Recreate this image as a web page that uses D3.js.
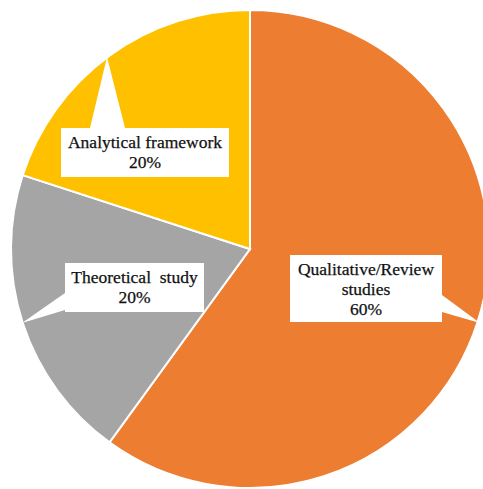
<!DOCTYPE html>
<html>
<head>
<meta charset="utf-8">
<script src="https://cdn.jsdelivr.net/npm/d3@7"></script>
<style>
  body { margin: 0; background: #fff; }
  svg { display: block; }
  .callout text { font-family: "Liberation Serif", "DejaVu Serif", serif; }
</style>
</head>
<body>
<div id="chart-area"></div>
<script>
// --> DATA
var categories = ["Qualitative/Review studies", "Theoretical study", "Analytical framework"];
var shares = [60, 20, 20];
var labelLines = [["Qualitative/Review", "studies"], ["Theoretical  study"], ["Analytical framework"]];

// --> SVG DRAWING AREA
var width = 483;
var height = 489;

var svg = d3.select("#chart-area").append("svg")
  .attr("width", width)
  .attr("height", height);

var cx = 250, cy = 249, radius = 239;

var color = d3.scaleOrdinal()
  .domain(categories)
  .range(["#ED7D31", "#A5A5A5", "#FFC000"]);

var pie = d3.pie()
  .sort(null)
  .value(function(d){ return d.value; });

var arc = d3.arc()
  .innerRadius(0)
  .outerRadius(radius);

var pieData = pie(categories.map(function(c, i){
  return { name: c, value: shares[i], lines: labelLines[i] };
}));

var g = svg.append("g")
  .attr("transform", "translate(" + cx + "," + cy + ")");

g.selectAll("path.slice")
  .data(pieData)
  .enter()
  .append("path")
  .attr("class", "slice")
  .attr("d", arc)
  .style("fill", function(d){ return color(d.data.name); })
  .style("stroke", "#fff")
  .style("stroke-width", 2);

// Callout boxes (box + pointer, relative to pie centre)
var callouts = {
  "Qualitative/Review studies": {
    box: [40, 6, 152, 67],
    pointer: [[192, 46], [230, 74], [192, 63]],
    firstBaseline: 26
  },
  "Theoretical study": {
    box: [-185, 14, 139, 49],
    pointer: [[-185, 44], [-228, 74], [-185, 61]],
    firstBaseline: 34
  },
  "Analytical framework": {
    box: [-189, -121, 168, 49],
    pointer: [[-160, -121], [-143, -192], [-125, -121]],
    firstBaseline: -101
  }
};

var labels = g.selectAll("g.callout")
  .data(pieData)
  .enter()
  .append("g")
  .attr("class", "callout");

labels.each(function(d){
  var c = callouts[d.data.name];
  var sel = d3.select(this);
  var line = d3.line();
  sel.append("path")
    .attr("d", line(c.pointer) + "Z")
    .style("fill", "#fff");
  sel.append("rect")
    .attr("x", c.box[0])
    .attr("y", c.box[1])
    .attr("width", c.box[2])
    .attr("height", c.box[3])
    .style("fill", "#fff");

  var lines = d.data.lines.concat([d.data.value + "%"]);
  var tx = c.box[0] + c.box[2] / 2;
  sel.selectAll("text")
    .data(lines)
    .enter()
    .append("text")
    .attr("x", tx)
    .attr("y", function(t, i){ return c.firstBaseline + i * 20; })
    .attr("text-anchor", "middle")
    .attr("font-size", 17.5)
    .attr("fill", "#111")
    .attr("stroke", "#111")
    .attr("stroke-width", 0.25)
    .style("white-space", "pre")
    .text(function(t){ return t; });
});
</script>
</body>
</html>
